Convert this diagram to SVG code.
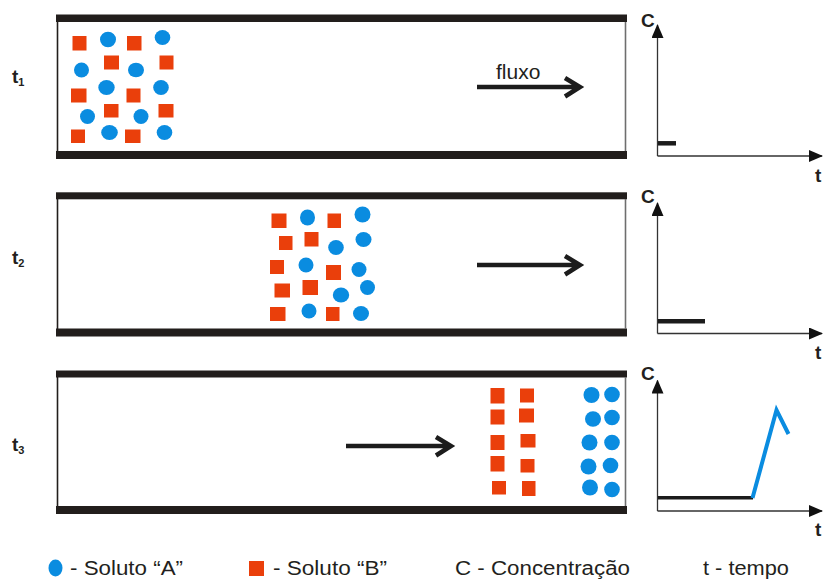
<svg xmlns="http://www.w3.org/2000/svg" width="823" height="580" viewBox="0 0 823 580">
  <style>
    .bar { fill: #221e1c; }
    .wall-l { stroke: #221e1c; stroke-width: 1.6; }
    .wall-r { stroke: #6e6e6e; stroke-width: 1.6; }
    .a { fill: #0a8ce0; }
    .b { fill: #ea3f0b; }
    .flow { stroke: #1c1c1c; stroke-width: 4.5; fill: none; stroke-linecap: butt; stroke-linejoin: miter; }
    .axis { stroke: #333; stroke-width: 1.3; fill: none; }
    .lvl { stroke: #1c1c1c; stroke-width: 4.5; fill: none; }
    .peak { stroke: #0a8ce0; stroke-width: 4; fill: none; stroke-linejoin: miter; }
    .lbl { font-family: "Liberation Sans", Arial, sans-serif; font-weight: bold; fill: #231f20; }
    .leg { font-family: "Liberation Sans", Arial, sans-serif; font-size: 20px; fill: #231f20; }
  </style>
  <defs>
    <marker id="ax" markerWidth="14" markerHeight="12" refX="13" refY="6" orient="auto" markerUnits="userSpaceOnUse">
      <path d="M0,0 L14,6 L0,12 Z" fill="#111"/>
    </marker>
  </defs>

  <rect width="823" height="580" fill="#fff"/>

  <!-- tube at t1 -->
  <g id="tube1">
    <rect class="bar" x="56" y="14.5" width="571" height="7.5"/>
    <rect class="bar" x="56" y="151" width="571" height="8"/>
    <line class="wall-l" x1="57.5" y1="22" x2="57.5" y2="151"/>
    <line class="wall-r" x1="625.5" y1="22" x2="625.5" y2="151"/>
    <rect class="b" x="72.5" y="36" width="14" height="14.5"/>
    <ellipse class="a" cx="108" cy="39.5" rx="8" ry="7.8"/>
    <rect class="b" x="127" y="36" width="14.5" height="14.5"/>
    <ellipse class="a" cx="162.5" cy="37.5" rx="7.8" ry="7.5"/>
    <ellipse class="a" cx="81.5" cy="70" rx="7.5" ry="7.5"/>
    <rect class="b" x="104" y="55.5" width="15" height="14"/>
    <ellipse class="a" cx="136" cy="70" rx="8" ry="7.3"/>
    <rect class="b" x="159.5" y="55.5" width="14" height="14"/>
    <rect class="b" x="71" y="88.5" width="15.5" height="14"/>
    <ellipse class="a" cx="106.5" cy="87.5" rx="8.2" ry="7.5"/>
    <rect class="b" x="126.5" y="88.5" width="14" height="14"/>
    <ellipse class="a" cx="161" cy="87.5" rx="7.8" ry="7.5"/>
    <ellipse class="a" cx="87.5" cy="116.5" rx="7.5" ry="7.5"/>
    <rect class="b" x="104" y="104" width="14.5" height="13.5"/>
    <ellipse class="a" cx="141" cy="116.5" rx="7.5" ry="7.5"/>
    <rect class="b" x="158.5" y="104" width="15" height="13.5"/>
    <rect class="b" x="71" y="129.5" width="14" height="13.5"/>
    <ellipse class="a" cx="109.5" cy="132.5" rx="8.3" ry="7.5"/>
    <rect class="b" x="125" y="129.5" width="15.5" height="13.5"/>
    <ellipse class="a" cx="164.5" cy="132.5" rx="7.8" ry="7.5"/>
  </g>

  <!-- tube at t2 -->
  <g id="tube2">
    <rect class="bar" x="56" y="192.3" width="571" height="7"/>
    <rect class="bar" x="56" y="328.5" width="571" height="8"/>
    <line class="wall-l" x1="57.5" y1="199" x2="57.5" y2="329"/>
    <line class="wall-r" x1="625.5" y1="199" x2="625.5" y2="329"/>
    <rect class="b" x="271.5" y="213.5" width="15" height="14.5"/>
    <ellipse class="a" cx="307.5" cy="217.5" rx="7.5" ry="8"/>
    <rect class="b" x="327.5" y="213.5" width="13.5" height="14.5"/>
    <ellipse class="a" cx="362.5" cy="214.5" rx="8" ry="8"/>
    <rect class="b" x="279" y="236" width="13.5" height="14"/>
    <rect class="b" x="304.5" y="232" width="14" height="14.5"/>
    <ellipse class="a" cx="336" cy="247.5" rx="7.8" ry="7.5"/>
    <ellipse class="a" cx="363.5" cy="239.5" rx="8" ry="7.5"/>
    <rect class="b" x="270" y="260" width="14" height="14"/>
    <ellipse class="a" cx="306" cy="265" rx="7.5" ry="7.5"/>
    <rect class="b" x="326" y="265" width="15" height="15"/>
    <ellipse class="a" cx="359" cy="269.5" rx="7.5" ry="7.5"/>
    <rect class="b" x="274.5" y="283.5" width="15.5" height="14"/>
    <rect class="b" x="302.5" y="280" width="15.5" height="15"/>
    <ellipse class="a" cx="341" cy="295" rx="8.2" ry="7.5"/>
    <ellipse class="a" cx="367.5" cy="287.5" rx="7.5" ry="7.5"/>
    <rect class="b" x="270" y="307" width="15.5" height="14"/>
    <ellipse class="a" cx="309" cy="311" rx="7.5" ry="7.5"/>
    <rect class="b" x="326" y="307" width="13.5" height="14"/>
    <ellipse class="a" cx="361" cy="313.5" rx="8" ry="7.5"/>
  </g>

  <!-- tube at t3 -->
  <g id="tube3">
    <rect class="bar" x="56" y="370.5" width="571" height="7"/>
    <rect class="bar" x="56" y="506" width="571" height="8"/>
    <line class="wall-l" x1="57.5" y1="377" x2="57.5" y2="506"/>
    <line class="wall-r" x1="625.5" y1="377" x2="625.5" y2="506"/>
    <rect class="b" x="490.5" y="388" width="14" height="15.5"/>
    <rect class="b" x="490.5" y="409.5" width="14" height="15"/>
    <rect class="b" x="490.5" y="435" width="14" height="15"/>
    <rect class="b" x="490.5" y="456" width="14" height="15.5"/>
    <rect class="b" x="492" y="481" width="14" height="13.5"/>
    <rect class="b" x="520" y="388.5" width="14" height="14"/>
    <rect class="b" x="519" y="408.5" width="15" height="14"/>
    <rect class="b" x="520.5" y="434" width="15" height="13.5"/>
    <rect class="b" x="520.5" y="459" width="14" height="13.5"/>
    <rect class="b" x="522" y="481" width="13.5" height="15"/>
    <ellipse class="a" cx="591.5" cy="395" rx="8" ry="8"/>
    <ellipse class="a" cx="593" cy="419" rx="8" ry="7.8"/>
    <ellipse class="a" cx="589.5" cy="442.5" rx="8" ry="8"/>
    <ellipse class="a" cx="588.5" cy="466.5" rx="8" ry="8"/>
    <ellipse class="a" cx="590" cy="487.5" rx="8" ry="8"/>
    <ellipse class="a" cx="612" cy="394.5" rx="7.8" ry="7.8"/>
    <ellipse class="a" cx="612" cy="417.5" rx="7.8" ry="7.8"/>
    <ellipse class="a" cx="612" cy="442.5" rx="7.8" ry="7.8"/>
    <ellipse class="a" cx="610.5" cy="465.5" rx="7.8" ry="7.8"/>
    <ellipse class="a" cx="612" cy="489.5" rx="7.8" ry="7.8"/>
  </g>

  <!-- time labels -->
  <g id="labels">
    <text class="lbl" x="12" y="83" font-size="19">t<tspan font-size="11" dy="3">1</tspan></text>
    <text class="lbl" x="12" y="264" font-size="19">t<tspan font-size="11" dy="3">2</tspan></text>
    <text class="lbl" x="12" y="451" font-size="19">t<tspan font-size="11" dy="3">3</tspan></text>
  </g>

  <!-- flow arrows -->
  <g id="connectors">
    <path class="flow" d="M477,87 H580 M565,78 L580,87 L565,96.5"/>
    <path class="flow" d="M477,265 H580 M565,256 L580,265 L565,274.5"/>
    <path class="flow" d="M346,446 H451 M436,437 L451,446 L436,455.5"/>
  </g>
  <text id="fluxo" x="496" y="79" font-family="Liberation Sans, Arial, sans-serif" font-size="21" fill="#231f20">fluxo</text>

  <!-- concentration graphs -->
  <g id="graph1">
    <path class="axis" d="M657.5,156 V25" marker-end="url(#ax)"/>
    <path class="axis" d="M657.5,156 H822" marker-end="url(#ax)"/>
    <line class="lvl" x1="658" y1="143.3" x2="676" y2="143.3"/>
    <text class="lbl" x="641" y="27" font-size="19">C</text>
    <text class="lbl" x="815" y="182" font-size="19">t</text>
  </g>
  <g id="graph2">
    <path class="axis" d="M657.5,333.5 V203" marker-end="url(#ax)"/>
    <path class="axis" d="M657.5,333.5 H822" marker-end="url(#ax)"/>
    <line class="lvl" x1="658" y1="321.3" x2="705" y2="321.3"/>
    <text class="lbl" x="641" y="203" font-size="19">C</text>
    <text class="lbl" x="815" y="359" font-size="19">t</text>
  </g>
  <g id="graph3">
    <path class="axis" d="M657.5,511 V380.5" marker-end="url(#ax)"/>
    <path class="axis" d="M657.5,511 H822" marker-end="url(#ax)"/>
    <line class="lvl" x1="658" y1="497.7" x2="753" y2="497.7" style="stroke-width:3.6"/>
    <path class="peak" d="M752.5,498 L776.5,410 L788.5,434"/>
    <text class="lbl" x="641" y="380" font-size="19">C</text>
    <text class="lbl" x="815" y="536" font-size="19">t</text>
  </g>

  <!-- legend -->
  <g id="legend">
    <ellipse class="a" cx="55.5" cy="568" rx="7" ry="8.5"/>
    <text class="leg" x="70" y="575" textLength="113" lengthAdjust="spacingAndGlyphs">- Soluto “A”</text>
    <rect class="b" x="249" y="561" width="15" height="15"/>
    <text class="leg" x="273" y="575" textLength="114" lengthAdjust="spacingAndGlyphs">- Soluto “B”</text>
    <text class="leg" x="455" y="575" textLength="175" lengthAdjust="spacingAndGlyphs">C - Concentração</text>
    <text class="leg" x="703" y="575" textLength="86" lengthAdjust="spacingAndGlyphs">t - tempo</text>
  </g>
</svg>
